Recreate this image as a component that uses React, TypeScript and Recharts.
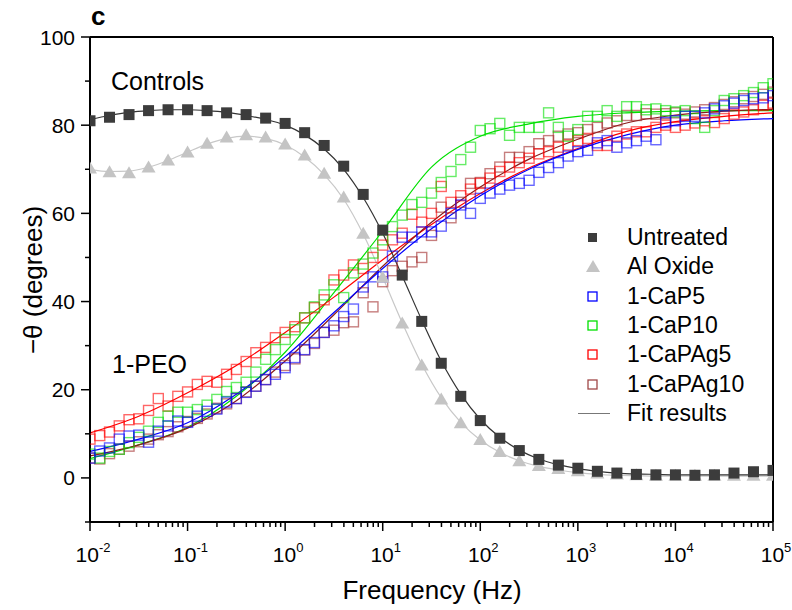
import React from "react"
import {
  ComposedChart,
  Scatter,
  Line,
  XAxis,
  YAxis,
  ReferenceLine,
  Legend,
} from "recharts"

const FONT = "'Liberation Sans', Arial, sans-serif"

// log10(frequency / Hz)
const CTRL_LOGF = [
  -2, -1.8, -1.6, -1.4, -1.2, -1, -0.8, -0.6, -0.4, -0.2, 0, 0.2, 0.4, 0.6, 0.8, 1, 1.2, 1.4,
  1.6, 1.8, 2, 2.2, 2.4, 2.6, 2.8, 3, 3.2, 3.4, 3.6, 3.8, 4, 4.2, 4.4, 4.6, 4.8, 5,
]
const PEO_LOGF = [
  -2, -1.9, -1.8, -1.7, -1.6, -1.5, -1.4, -1.3, -1.2, -1.1, -1, -0.9, -0.8, -0.7, -0.6, -0.5,
  -0.4, -0.3, -0.2, -0.1, 0, 0.1, 0.2, 0.3, 0.4, 0.5, 0.6, 0.7, 0.8, 0.9, 1, 1.1, 1.2, 1.3, 1.4,
  1.5, 1.6, 1.7, 1.8, 1.9, 2, 2.1, 2.2, 2.3, 2.4, 2.5, 2.6, 2.7, 2.8, 2.9, 3, 3.1, 3.2, 3.3, 3.4,
  3.5, 3.6, 3.7, 3.8, 3.9, 4, 4.1, 4.2, 4.3, 4.4, 4.5, 4.6, 4.7, 4.8, 4.9, 5,
]
const FIT_LOGF = [-2, -1.5, -1, -0.5, 0, 0.5, 1, 1.5, 2, 2.5, 3, 3.5, 4, 4.5, 5]

const UNTREATED = [
  81.0, 81.8, 82.4, 83.3, 83.5, 83.5, 83.3, 82.8, 82.4, 81.6, 80.4, 78.3, 75.4, 70.7, 64.3, 56.2,
  46.0, 35.5, 26.0, 18.5, 13.0, 9.0, 6.2, 4.2, 2.9, 2.2, 1.5, 1.1, 0.8, 0.7, 0.7, 0.6, 0.7, 1.1,
  1.4, 1.7,
]
const AL_OXIDE = [
  70.2, 69.3, 69.1, 70.4, 72.0, 73.8, 75.8, 77.2, 77.7, 77.2, 75.6, 73.1, 69.0, 63.6, 55.4, 45.4,
  35.0, 25.5, 17.8, 12.4, 8.6, 5.9, 3.8, 2.7, 2.0, 1.5, 1.0, 0.8, 0.6, 0.5, 0.5, 0.5, 0.5, 0.5,
  0.5, 0.5,
]
const UNTREATED_FIT = [
  81.3, 82.2, 82.9, 83.3, 83.5, 83.5, 83.3, 82.9, 82.2, 81.3, 80.0, 77.8, 74.6, 70.0, 63.6, 55.5,
  45.8, 35.8, 26.5, 19.0, 13.3, 9.2, 6.3, 4.3, 3.0, 2.1, 1.5, 1.1, 0.9, 0.8, 0.7, 0.7, 0.7, 0.7,
  0.7, 0.7,
]
const AL_OXIDE_FIT = [
  70.0, 69.5, 69.6, 70.5, 72.0, 73.9, 75.7, 77.0, 77.5, 77.0, 75.5, 72.8, 68.8, 63.2, 55.3, 45.5,
  35.2, 25.8, 18.2, 12.6, 8.6, 5.8, 3.9, 2.6, 1.8, 1.2, 0.8, 0.6, 0.5, 0.4, 0.4, 0.4, 0.4, 0.4,
  0.4, 0.4,
]

const CAP5 = [
  4.5, 6.1, 6.8, 8.8, 9.5, 9.7, 8.1, 10.6, 11.8, 12.9, 12.6, 14.0, 15.1, 15.6, 17.2, 18.0, 19.4,
  20.8, 22.3, 23.5, 25.0, 27.3, 29.1, 30.7, 33.0, 34.5, 36.6, 38.3, 43.3, 45.6, 45.6, 50.3, 54.6,
  54.6, 55.8, 55.8, 57.1, 60.0, 61.9, 60.0, 63.4, 64.6, 65.5, 66.4, 66.8, 67.5, 69.3, 70.4, 71.5,
  73.0, 74.0, 74.3, 76.0, 76.5, 75.0, 76.0, 76.5, 77.5, 76.7, 80.6, 81.0, 82.0, 82.0, 82.8, 83.7,
  84.4, 85.0, 85.6, 86.0, 86.2, 86.7,
]
const CAP10 = [
  5.4, 4.5, 6.0, 6.5, 8.0, 9.2, 10.6, 12.6, 14.0, 14.9, 14.9, 15.5, 16.5, 17.8, 19.6, 20.5, 21.7,
  24.0, 26.9, 29.1, 31.4, 33.6, 36.3, 38.8, 41.5, 43.8, 40.9, 46.5, 48.5, 51.0, 54.0, 57.0, 59.6,
  62.0, 62.5, 64.6, 67.0, 69.5, 72.2, 75.0, 78.8, 79.2, 80.4, 77.7, 79.5, 79.5, 79.5, 82.8, 79.5,
  77.5, 79.0, 82.0, 82.0, 83.3, 82.0, 84.2, 84.2, 83.5, 83.7, 83.3, 83.0, 83.3, 81.5, 79.5, 83.3,
  85.6, 86.0, 86.7, 87.4, 88.5, 89.4,
]
const CAPAG5 = [
  8.8, 9.6, 10.4, 11.8, 13.2, 13.4, 15.3, 18.0, 16.3, 18.5, 19.5, 21.2, 21.9, 21.7, 23.5, 24.6,
  26.4, 28.4, 29.6, 31.8, 33.0, 34.3, 36.3, 38.6, 40.4, 44.9, 46.0, 48.3, 47.5, 50.0, 52.8, 54.0,
  55.5, 59.8, 58.0, 60.0, 66.1, 62.5, 64.0, 65.5, 66.8, 68.0, 69.5, 70.5, 71.5, 72.5, 73.5, 74.0,
  75.0, 75.5, 76.5, 77.0, 75.4, 75.4, 77.5, 78.0, 78.5, 78.5, 79.5, 80.0, 79.5, 80.0, 80.5, 81.0,
  80.6, 81.5, 82.5, 83.0, 83.5, 84.5, 85.0,
]
const CAPAG10 = [
  4.5, 4.3, 5.5, 6.5, 7.2, 8.2, 8.8, 9.8, 10.5, 11.6, 12.8, 13.5, 14.5, 15.8, 16.8, 18.0, 19.5,
  20.8, 22.3, 24.0, 25.5, 27.0, 29.0, 30.5, 33.0, 33.5, 35.2, 35.4, 42.0, 38.8, 44.5, 47.0, 48.0,
  49.0, 50.0, 55.0, 61.4, 59.0, 62.5, 66.8, 67.0, 69.0, 70.5, 72.7, 72.7, 74.0, 75.8, 76.5, 77.5,
  78.0, 78.3, 79.0, 79.5, 80.5, 81.0, 82.2, 82.2, 82.6, 82.5, 82.6, 82.8, 82.5, 83.0, 83.5, 84.0,
  84.7, 85.3, 86.0, 86.5, 87.0, 87.5,
]

const CAP5_FIT = [6.0, 8.8, 12.5, 19.0, 27.5, 37.5, 47.5, 56.5, 64.0, 70.0, 74.5, 77.8, 80.0, 81.0, 81.5]
const CAP10_FIT = [4.4, 7.5, 11.5, 18.5, 28.5, 42.0, 56.0, 70.5, 77.5, 80.3, 82.0, 82.8, 83.2, 83.3, 83.3]
const CAPAG5_FIT = [10.2, 14.0, 19.3, 25.5, 33.0, 41.0, 49.5, 57.5, 64.5, 70.3, 74.7, 78.6, 80.8, 82.0, 82.8]
const CAPAG10_FIT = [5.0, 7.5, 11.3, 17.5, 26.5, 37.0, 48.0, 58.0, 66.0, 72.3, 76.8, 80.5, 82.3, 83.2, 83.6]

const Y_TICKS = [-10, 0, 10, 20, 30, 40, 50, 60, 70, 80, 90, 100]

const toPoints = (xs: number[], ys: number[]) => xs.map((x, i) => ({ x, y: ys[i] }))

// decade ticks plus 2..9 minors, in log10 units
const X_TICKS: number[] = []
for (let n = -2; n < 5; n++) {
  for (let k = 1; k <= 9; k++) X_TICKS.push(n + Math.log10(k))
}
X_TICKS.push(5)

const COLORS = {
  untreated: "#3c3c3c",
  alOxide: "#c4c4c4",
  cap5: "#0000ff",
  cap10: "#00e000",
  capag5: "#ff0000",
  capag10: "#8b1a1a",
}

const filledSquare = (props: any) => (
  <rect x={props.cx - 5.5} y={props.cy - 5.5} width={11} height={11} fill={COLORS.untreated} />
)

const triangle = (props: any) => {
  const { cx, cy } = props
  return (
    <polygon
      points={`${cx},${cy - 7} ${cx - 7},${cy + 5} ${cx + 7},${cy + 5}`}
      fill={COLORS.alOxide}
    />
  )
}

const openSquare = (color: string) => (props: any) => (
  <rect
    x={props.cx - 5}
    y={props.cy - 5}
    width={10}
    height={10}
    fill="none"
    stroke={color}
    strokeOpacity={0.6}
    strokeWidth={1.4}
  />
)

function XTick(props: any) {
  const { x, y, payload } = props
  const v = payload.value
  const major = Math.abs(v - Math.round(v)) < 1e-6
  return (
    <g>
      <line x1={x} x2={x} y1={y} y2={y + (major ? 9 : 5)} stroke="#000" strokeWidth={1.5} />
      {major && (
        <text x={x + 3} y={y + 40} textAnchor="middle" fontSize={21} fontFamily={FONT} fill="#000">
          <tspan>10</tspan>
          <tspan dy={-10} fontSize={13}>
            {Math.round(v)}
          </tspan>
        </text>
      )}
    </g>
  )
}

function YTick(props: any) {
  const { x, y, payload } = props
  const v = payload.value
  const major = v % 20 === 0
  return (
    <g>
      <line x1={x - (major ? 9 : 5)} x2={x} y1={y} y2={y} stroke="#000" strokeWidth={1.5} />
      {major && (
        <text x={x - 15} y={y + 7.5} textAnchor="end" fontSize={21} fontFamily={FONT} fill="#000">
          {v}
        </text>
      )}
    </g>
  )
}

const LEGEND_ITEMS = [
  { name: "Untreated", kind: "filled", color: COLORS.untreated },
  { name: "Al Oxide", kind: "triangle", color: COLORS.alOxide },
  { name: "1-CaP5", kind: "open", color: COLORS.cap5 },
  { name: "1-CaP10", kind: "open", color: COLORS.cap10 },
  { name: "1-CaPAg5", kind: "open", color: COLORS.capag5 },
  { name: "1-CaPAg10", kind: "open", color: "#a04848" },
  { name: "Fit results", kind: "line", color: "#777777" },
]

function LegendBox() {
  return (
    <div style={{ fontFamily: FONT, fontSize: 23, color: "#000" }}>
      {LEGEND_ITEMS.map((it) => (
        <div key={it.name} style={{ display: "flex", alignItems: "center", height: 29.3 }}>
          <svg width={40} height={29} style={{ display: "block" }}>
            {it.kind === "filled" && <rect x={10} y={10} width={9} height={9} fill={it.color} />}
            {it.kind === "triangle" && <polygon points="15,8 8,20 22,20" fill={it.color} />}
            {it.kind === "open" && (
              <rect x={10} y={10} width={9} height={9} fill="none" stroke={it.color} strokeWidth={1.3} />
            )}
            {it.kind === "line" && <line x1={0} x2={32} y1={14.5} y2={14.5} stroke={it.color} strokeWidth={1} />}
          </svg>
          <span style={{ marginLeft: 9, lineHeight: 1 }}>{it.name}</span>
        </div>
      ))}
    </div>
  )
}

export default function App() {
  return (
    <div style={{ position: "relative", width: 792, height: 610, background: "#fff" }}>
      <style>{`body{margin:0}`}</style>
      <ComposedChart width={792} height={610} margin={{ top: 37, right: 19, bottom: 28, left: 30 }}>
        <XAxis
          type="number"
          dataKey="x"
          domain={[-2, 5]}
          ticks={X_TICKS}
          interval={0}
          allowDataOverflow
          height={60}
          tickSize={0}
          tickMargin={0}
          tickLine={false}
          tick={<XTick />}
          axisLine={{ stroke: "#000", strokeWidth: 2 }}
        />
        <YAxis
          type="number"
          dataKey="y"
          domain={[-10, 100]}
          ticks={Y_TICKS}
          interval={0}
          allowDataOverflow
          width={60}
          tickSize={0}
          tickMargin={0}
          tickLine={false}
          tick={<YTick />}
          axisLine={{ stroke: "#000", strokeWidth: 2 }}
        />
        <ReferenceLine y={100} stroke="#000" strokeWidth={2} />
        <ReferenceLine x={5} stroke="#000" strokeWidth={2} />

        <Scatter data={toPoints(PEO_LOGF, CAPAG10)} dataKey="y" shape={openSquare("#a02828")} isAnimationActive={false} />
        <Scatter data={toPoints(PEO_LOGF, CAPAG5)} dataKey="y" shape={openSquare(COLORS.capag5)} isAnimationActive={false} />
        <Scatter data={toPoints(PEO_LOGF, CAP10)} dataKey="y" shape={openSquare(COLORS.cap10)} isAnimationActive={false} />
        <Scatter data={toPoints(PEO_LOGF, CAP5)} dataKey="y" shape={openSquare(COLORS.cap5)} isAnimationActive={false} />

        <Line data={toPoints(FIT_LOGF, CAP10_FIT)} dataKey="y" type="monotone" stroke={COLORS.cap10} strokeWidth={1.2} dot={false} isAnimationActive={false} />
        <Line data={toPoints(FIT_LOGF, CAPAG5_FIT)} dataKey="y" type="monotone" stroke={COLORS.capag5} strokeWidth={1.2} dot={false} isAnimationActive={false} />
        <Line data={toPoints(FIT_LOGF, CAPAG10_FIT)} dataKey="y" type="monotone" stroke={COLORS.capag10} strokeWidth={1.2} dot={false} isAnimationActive={false} />
        <Line data={toPoints(FIT_LOGF, CAP5_FIT)} dataKey="y" type="monotone" stroke={COLORS.cap5} strokeWidth={1.2} dot={false} isAnimationActive={false} />

        <Scatter data={toPoints(CTRL_LOGF, AL_OXIDE)} dataKey="y" shape={triangle} isAnimationActive={false} />
        <Line data={toPoints(CTRL_LOGF, AL_OXIDE_FIT)} dataKey="y" type="monotone" stroke="#c8c8c8" strokeWidth={1.2} dot={false} isAnimationActive={false} />
        <Scatter data={toPoints(CTRL_LOGF, UNTREATED)} dataKey="y" shape={filledSquare} isAnimationActive={false} />
        <Line data={toPoints(CTRL_LOGF, UNTREATED_FIT)} dataKey="y" type="monotone" stroke="#333333" strokeWidth={1.2} dot={false} isAnimationActive={false} />

        <Legend
          layout="vertical"
          align="center"
          verticalAlign="middle"
          content={() => <LegendBox />}
          wrapperStyle={{ position: "absolute", left: 578, top: 223, width: 200, height: "auto" }}
        />
      </ComposedChart>

      <svg
        width={792}
        height={610}
        style={{ position: "absolute", left: 0, top: 0, pointerEvents: "none" }}
        fontFamily={FONT}
      >
        <text x={91} y={25} fontSize={26} fontWeight="bold">c</text>
        <text x={111} y={90} fontSize={25}>Controls</text>
        <text x={112} y={373} fontSize={25}>1-PEO</text>
        <text x={432} y={599} fontSize={26} textAnchor="middle">Frequency (Hz)</text>
        <text x={42} y={280} fontSize={26} textAnchor="middle" transform="rotate(-90 42 280)">
          −θ (degrees)
        </text>
      </svg>
    </div>
  )
}
